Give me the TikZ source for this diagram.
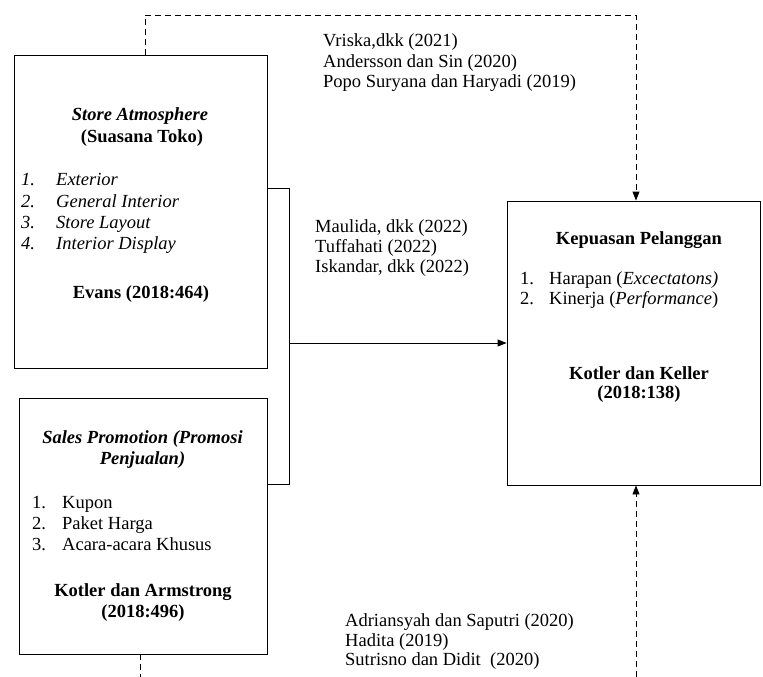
\documentclass[tikz,border=0pt]{standalone}
\usepackage{fontspec}
\setmainfont{Liberation Serif}
\usetikzlibrary{arrows.meta}
\begin{document}
\begin{tikzpicture}[x=1pt,y=-1pt,
  box/.style={draw, line width=0.9pt, inner sep=0pt},
  txt/.style={inner sep=0pt, font=\fontsize{18.5}{20.5}\selectfont},
  conn/.style={line width=0.9pt},
  dconn/.style={line width=0.9pt, dash pattern=on 6pt off 4pt},
  tip/.style={-{Triangle[length=9pt,width=7pt]}}]
\useasboundingbox (0,0) rectangle (763,677);
% boxes
\node[box, minimum width=253pt, minimum height=313pt] (sa) at (140.5,211.5) {};
\node[box, minimum width=248pt, minimum height=256pt] (sp) at (143,526) {};
\node[box, minimum width=253pt, minimum height=284pt] (kp) at (633.5,343) {};
% box 1 text
\node[txt, anchor=base] (sa1) at (140,120) {\textbf{\textit{Store Atmosphere}}};
\node[txt, anchor=base] (sa2) at (142,142) {\textbf{(Suasana Toko)}};
\node[txt, anchor=base west] (sa3n) at (21,185) {\textit{1.}};
\node[txt, anchor=base west] (sa3) at (56,185) {\textit{Exterior}};
\node[txt, anchor=base west] (sa4n) at (21,207) {\textit{2.}};
\node[txt, anchor=base west] (sa4) at (56,207) {\textit{General Interior}};
\node[txt, anchor=base west] (sa5n) at (21,228) {\textit{3.}};
\node[txt, anchor=base west] (sa5) at (56,228) {\textit{Store Layout}};
\node[txt, anchor=base west] (sa6n) at (21,249) {\textit{4.}};
\node[txt, anchor=base west] (sa6) at (56,249) {\textit{Interior Display}};
\node[txt, anchor=base] (sa7) at (141,298) {\textbf{Evans (2018:464)}};
% box 2 text
\node[txt, anchor=base] (sp1) at (142.5,443) {\textbf{\textit{Sales Promotion (Promosi}}};
\node[txt, anchor=base] (sp2) at (142.5,464) {\textbf{\textit{Penjualan)}}};
\node[txt, anchor=base west] (sp3n) at (32,508) {1.};
\node[txt, anchor=base west] (sp3) at (62,508) {Kupon};
\node[txt, anchor=base west] (sp4n) at (32,529) {2.};
\node[txt, anchor=base west] (sp4) at (62,529) {Paket Harga};
\node[txt, anchor=base west] (sp5n) at (32,550) {3.};
\node[txt, anchor=base west] (sp5) at (62,550) {Acara-acara Khusus};
\node[txt, anchor=base] (sp6) at (143,596) {\textbf{Kotler dan Armstrong}};
\node[txt, anchor=base] (sp7) at (143,617) {\textbf{(2018:496)}};
% box 3 text
\node[txt, anchor=base] (kp1) at (639,244) {\textbf{Kepuasan Pelanggan}};
\node[txt, anchor=base west] (kp2n) at (520,284) {1.};
\node[txt, anchor=base west] (kp2) at (549,284) {Harapan (\textit{Excectatons)}};
\node[txt, anchor=base west] (kp3n) at (520,304) {2.};
\node[txt, anchor=base west] (kp3) at (549,304) {Kinerja (\textit{Performance})};
\node[txt, anchor=base] (kp4) at (639,379) {\textbf{Kotler dan Keller}};
\node[txt, anchor=base] (kp5) at (639,398) {\textbf{(2018:138)}};
% reference texts
\node[txt, anchor=base west] (r1) at (323,47) {Vriska,dkk (2021)};
\node[txt, anchor=base west] (r2) at (323,68) {Andersson dan Sin (2020)};
\node[txt, anchor=base west] (r3) at (323,88) {Popo Suryana dan Haryadi (2019)};
\node[txt, anchor=base west] (m1) at (315,232) {Maulida, dkk (2022)};
\node[txt, anchor=base west] (m2) at (315,252) {Tuffahati (2022)};
\node[txt, anchor=base west] (m3) at (315,272) {Iskandar, dkk (2022)};
\node[txt, anchor=base west] (b1t) at (345,626) {Adriansyah dan Saputri (2020)};
\node[txt, anchor=base west] (b2t) at (345,646) {Hadita (2019)};
\node[txt, anchor=base west] (b3t) at (345,665) {Sutrisno dan Didit\ \ (2020)};
% connectors
\coordinate (c1) at (145,15);
\coordinate (c2) at (636,15);
\coordinate (c3) at (636,677);
\coordinate (c4) at (140,677);
\coordinate (j1) at (289,188);
\coordinate (j2) at (289,484);
\draw[dconn, tip] (c1 |- sa.north) -- (c1) -- (c2) -- (c2 |- kp.north);
\draw[dconn, tip] (c3) -- (c3 |- kp.south);
\draw[dconn] (c4 |- sp.south) -- (c4);
\draw[conn] (sa.east |- j1) -- (j1) -- (j2) -- (sp.east |- j2);
\draw[conn, tip] (j1 |- kp.west) -- (kp.west);
\end{tikzpicture}
\end{document}
